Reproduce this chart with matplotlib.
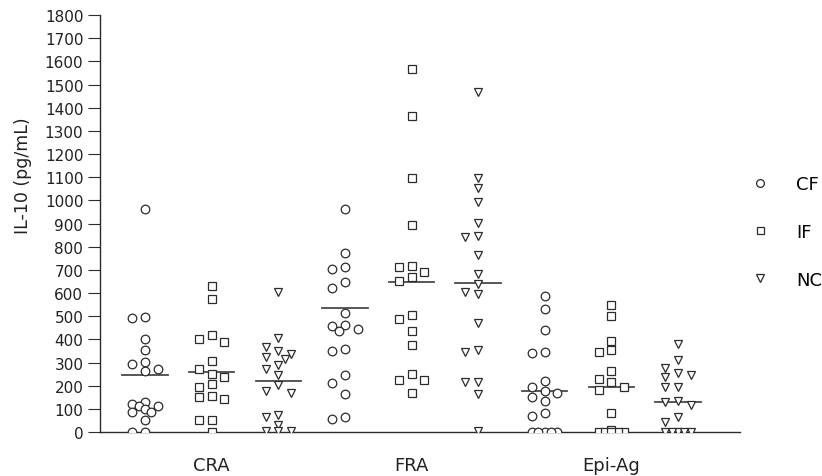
import numpy as np
import matplotlib
matplotlib.use('Agg')
import matplotlib.pyplot as plt

# IL-10 (pg/mL) values
antigens = ['CRA', 'FRA', 'Epi-Ag']
groups = ['CF', 'IF', 'NC']

cra_cf = [963, 498, 493, 401, 356, 303, 294, 271, 264, 130, 123, 112, 112, 98, 87, 87, 53, 0, 0]
cra_if = [632, 574, 418, 401, 387, 307, 271, 250, 238, 206, 195, 154, 151, 144, 50, 50, 0]
cra_nc = [606, 404, 368, 349, 339, 325, 317, 291, 274, 245, 202, 177, 169, 72, 65, 32, 3, 3, 3]

fra_cf = [963, 772, 714, 704, 649, 620, 512, 462, 457, 443, 437, 358, 349, 248, 212, 162, 65, 55]
fra_if = [1568, 1366, 1096, 894, 717, 711, 692, 668, 653, 505, 490, 436, 375, 250, 226, 226, 169]
fra_nc = [1467, 1096, 1053, 991, 901, 847, 844, 764, 681, 639, 606, 594, 472, 356, 346, 216, 216, 162, 3]

epi_cf = [586, 529, 441, 345, 342, 222, 193, 175, 169, 150, 136, 81, 71, 0, 0, 0, 0, 0]
epi_if = [547, 499, 392, 355, 345, 263, 229, 215, 193, 182, 81, 9, 0, 0, 0, 0, 0]
epi_nc = [378, 312, 277, 255, 247, 237, 196, 196, 136, 131, 118, 63, 45, 0, 0, 0, 0, 0]

# horizontal bars drawn for each group (as printed in the figure)
group_means = [245, 260, 219, 534, 649, 642, 179, 196, 131]

data = [cra_cf, cra_if, cra_nc, fra_cf, fra_if, fra_nc, epi_cf, epi_if, epi_nc]
markers = {'CF': 'o', 'IF': 's', 'NC': 'v'}
msize = {'CF': 6.2, 'IF': 5.6, 'NC': 6.4}
ink = '#2b2b2b'

fig = plt.figure(figsize=(8.22, 4.77), dpi=100)
ax = fig.add_axes([0.1217, 0.0922, 0.7785, 0.874])
ax.set_xlim(0.325, 9.93)
ax.set_ylim(0, 1800)

# pixels per data unit, used to spread overlapping points sideways
px_x = 0.7785 * 822 / (9.93 - 0.325)
px_y = 0.874 * 477 / 1800.0


def lanes(vals, lane=0.19, min_px=8.5):
    vals = np.asarray(vals, dtype=float)
    offs = np.zeros(len(vals))
    placed = []
    cands = [0, -lane, lane, -lane / 2, lane / 2]
    for i in np.argsort(-vals, kind='stable'):
        best, best_d = 0, -1
        for c in cands:
            d = min([np.hypot((c - o) * px_x, (vals[i] - v) * px_y) for o, v in placed] or [1e9])
            if d >= min_px:
                best = c
                break
            if d > best_d:
                best, best_d = c, d
        offs[i] = best
        placed.append((best, vals[i]))
    return offs


handles = {}
for k, vals in enumerate(data):
    g = groups[k % 3]
    x0 = k + 1
    xs = x0 + lanes(vals)
    h, = ax.plot(xs, vals, linestyle='none', marker=markers[g], markersize=msize[g],
                 markerfacecolor='white', markeredgecolor=ink, markeredgewidth=0.9,
                 label=g, zorder=3)
    handles[g] = h
    m = group_means[k]
    ax.plot([x0 - 0.34, x0 + 0.34], [m, m], color='#4a4a4a', lw=1.3, zorder=2)

ax.spines['top'].set_visible(False)
ax.spines['right'].set_visible(False)
for s in ['left', 'bottom']:
    ax.spines[s].set_color(ink)
    ax.spines[s].set_linewidth(1.0)

ax.set_yticks(np.arange(0, 1801, 100))
ax.tick_params(axis='y', length=9, width=0.8, color=ink, labelsize=11, pad=3, labelcolor='#222222')
ax.set_xticks([2, 5, 8])
ax.set_xticklabels(antigens)
ax.tick_params(axis='x', length=0, labelsize=13, pad=17, labelcolor='#222222')

ax.set_ylabel('IL-10 (pg/mL)', fontsize=12.5, color='#222222')
ax.yaxis.set_label_coords(-0.106, 0.618)

ax.legend([handles[g] for g in groups], groups, loc='center left',
          bbox_to_anchor=(0.905, 0.512), bbox_transform=fig.transFigure,
          frameon=False, fontsize=13, markerscale=0.9, handlelength=1.0,
          handletextpad=1.5, labelspacing=1.65, borderaxespad=0)

fig.savefig('out.png', dpi=100)
